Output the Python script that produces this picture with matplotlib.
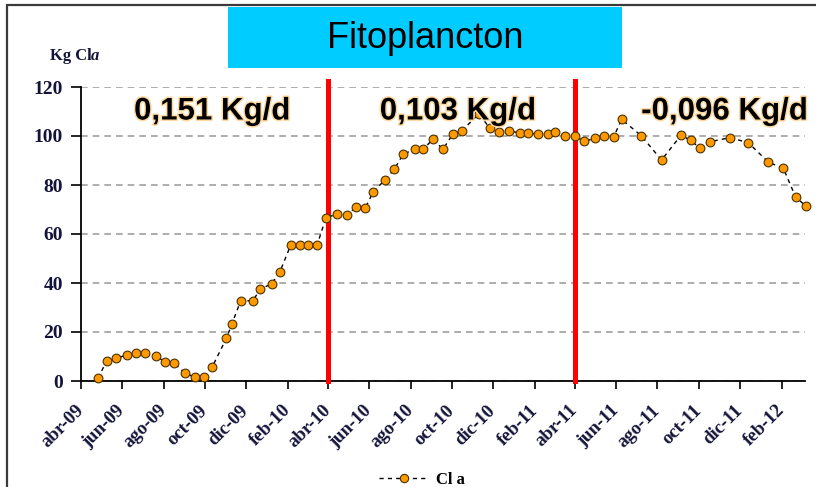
import matplotlib
matplotlib.use("Agg")
import matplotlib.pyplot as plt
import matplotlib.dates as mdates
import matplotlib.patheffects as pe
import matplotlib.transforms as mtrans
from matplotlib.patches import Rectangle
from matplotlib.lines import Line2D
import pandas as pd

# ---------------- data ----------------
dates = [
    "2009-04-26", "2009-05-09", "2009-05-23", "2009-06-08", "2009-06-21", "2009-07-05",
    "2009-07-21", "2009-08-03", "2009-08-17", "2009-09-01", "2009-09-16", "2009-09-30",
    "2009-10-12", "2009-11-02", "2009-11-10", "2009-11-23", "2009-12-11", "2009-12-22",
    "2010-01-08", "2010-01-20", "2010-02-05", "2010-02-18", "2010-03-03", "2010-03-16",
    "2010-03-29", "2010-04-14", "2010-04-29", "2010-05-12", "2010-05-26", "2010-06-07",
    "2010-06-24", "2010-07-08", "2010-07-21", "2010-08-07", "2010-08-20", "2010-09-03",
    "2010-09-18", "2010-10-03", "2010-10-16", "2010-11-10", "2010-11-26", "2010-12-10",
    "2010-12-25", "2011-01-10", "2011-01-22", "2011-02-06", "2011-02-20", "2011-03-03",
    "2011-03-18", "2011-04-01", "2011-04-15", "2011-05-01", "2011-05-14", "2011-05-28",
    "2011-06-09", "2011-07-08", "2011-08-07", "2011-09-05", "2011-09-19", "2011-10-03",
    "2011-10-18", "2011-11-16", "2011-12-13", "2012-01-12", "2012-02-03", "2012-02-21",
    "2012-03-07",
]
cla = [
    1.1, 8.2, 9.3, 10.6, 11.3, 11.3,
    10.2, 7.8, 7.2, 3.4, 1.5, 1.5,
    5.8, 17.5, 23.3, 32.7, 32.8, 37.5,
    39.7, 44.6, 55.5, 55.5, 55.5, 55.5,
    66.7, 68.0, 67.8, 70.9, 70.5, 77.3,
    82.0, 86.4, 92.5, 94.6, 94.6, 98.7,
    94.6, 101.0, 102.2, 109.0, 103.3, 101.8,
    102.2, 101.1, 101.1, 100.8, 100.8, 101.5,
    100.1, 99.8, 97.9, 99.0, 100.1, 99.5,
    106.8, 100.1, 90.2, 100.4, 98.2, 95.0,
    97.7, 99.3, 97.3, 89.3, 86.8, 75.2,
    71.4,
]
break_dates = ["2010-04-01", "2011-04-01"]
rate_labels = ["0,151 Kg/d", "0,103 Kg/d", "-0,096 Kg/d"]
rate_dates = ["2009-10-12", "2010-10-10", "2011-11-08"]
rate_values = [110, 110, 110]
month_abbr = {1: "ene", 2: "feb", 3: "mar", 4: "abr", 5: "may", 6: "jun",
              7: "jul", 8: "ago", 9: "sep", 10: "oct", 11: "nov", 12: "dic"}
title = "Fitoplancton"
series_name = "Cl a"

# ---------------- figure ----------------
W, H = 816, 487
fig = plt.figure(figsize=(W / 100, H / 100), dpi=100)
fig.patch.set_facecolor("white")

# outer border
fig.add_artist(Rectangle((7 / W, -0.05), 1.1, (H - 5) / H + 0.05, transform=fig.transFigure,
                         fill=False, edgecolor="#3a3a3a", linewidth=1.6))

ax = fig.add_axes([81 / W, 106 / H, (805 - 81) / W, (381 - 87) / H])
x = pd.to_datetime(dates)

ax.plot(x, cla, linestyle=(0, (3, 3)), color="black", linewidth=1.0,
        marker="o", markersize=6.3, markerfacecolor="#FF9900",
        markeredgecolor="#4a3000", markeredgewidth=0.8, clip_on=False, zorder=4)

for bd in pd.to_datetime(break_dates):
    ax.axvline(bd, ymin=0, ymax=1.02, color="#FF0000", linewidth=3.6, zorder=3, clip_on=False)

ax.set_ylim(0, 120)
ax.set_xlim(pd.Timestamp("2009-04-01"), pd.Timestamp("2012-03-06"))
ax.set_yticks(range(0, 121, 20))
ax.yaxis.grid(True, linestyle=(0, (4, 3)), color="#a0a0a0", linewidth=1.2)
ax.set_axisbelow(True)

ax.xaxis.set_major_locator(mdates.MonthLocator(bymonth=[2, 4, 6, 8, 10, 12]))
ax.xaxis.set_major_formatter(plt.FuncFormatter(
    lambda v, p: "%s-%s" % (month_abbr[mdates.num2date(v).month], mdates.num2date(v).strftime("%y"))))

for s in ("top", "right"):
    ax.spines[s].set_visible(False)
for s in ("left", "bottom"):
    ax.spines[s].set_linewidth(1.3)
    ax.spines[s].set_color("black")

ax.tick_params(axis="y", direction="out", length=7, width=1.2, pad=6,
               labelsize=14, labelcolor="#14143a")
ax.tick_params(axis="x", direction="out", length=6, width=1.2, pad=9,
               labelsize=13.5, labelcolor="#14143a")
for lab in ax.get_yticklabels():
    lab.set_fontfamily("Liberation Serif")
    lab.set_fontweight("bold")
shift = mtrans.ScaledTranslation(-6 / 100, 0, fig.dpi_scale_trans)
for lab in ax.get_xticklabels():
    lab.set_fontfamily("Liberation Serif")
    lab.set_fontweight("bold")
    lab.set_rotation(45)
    lab.set_ha("right")
    lab.set_va("top")
    lab.set_rotation_mode("anchor")
    lab.set_transform(lab.get_transform() + shift)

# rate annotations
glow = [pe.withStroke(linewidth=2.2, foreground="#FFD9A0")]
for lbl, d, v in zip(rate_labels, rate_dates, rate_values):
    ax.text(pd.Timestamp(d), v, lbl, ha="center", va="center", fontsize=22.5,
            fontweight="bold", fontfamily="Liberation Sans", color="black",
            path_effects=glow, zorder=5, clip_on=False)

# title box
fig.add_artist(Rectangle((228 / W, (H - 68) / H), (622 - 228) / W, 61 / H,
                         transform=fig.transFigure, facecolor="#00CCFF", edgecolor="none"))
fig.text(425 / W, 1 - 39 / H, title, ha="center", va="center", fontsize=26,
         fontfamily="Liberation Sans", color="black")

# y unit label
fig.text(50 / W, 1 - 56 / H, "Kg Cl", ha="left", va="center", fontsize=12,
         fontfamily="Liberation Serif", fontweight="bold", color="#14143a")
fig.text(91 / W, 1 - 56 / H, "a", ha="left", va="center", fontsize=12,
         fontfamily="Liberation Serif", fontweight="bold", style="italic", color="#14143a")

# legend
handle = Line2D([], [], linestyle=(0, (3, 3)), color="black", linewidth=1.0,
                marker="o", markersize=6, markerfacecolor="#FF9900",
                markeredgecolor="#4a3000", markeredgewidth=0.8)
leg = fig.legend([handle], [series_name], loc="center", bbox_to_anchor=(422 / W, 1 - 480 / H),
                 frameon=False, handlelength=3.0, handletextpad=0.4,
                 prop={"family": "Liberation Serif", "weight": "bold", "size": 12})

fig.savefig("out.png", dpi=100)
